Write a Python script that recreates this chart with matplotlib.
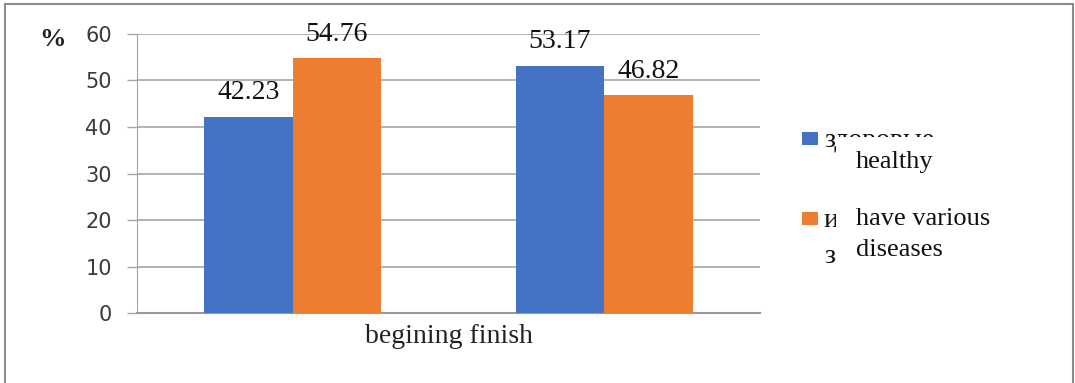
import matplotlib
matplotlib.use("Agg")
import matplotlib.pyplot as plt
from matplotlib.patches import Rectangle
import numpy as np

categories = ["begining", "finish"]
healthy = [42.23, 53.17]
diseases = [54.76, 46.82]
series_ru = ["здоровые", "имеют различные\nзаболевания"]
series_en = ["healthy", "have various\ndiseases"]
yticks = [0, 10, 20, 30, 40, 50, 60]

BLUE = "#4472C4"
ORANGE = "#ED7D31"
GRID = "#A6A6A6"
TXT = "#3a3a3a"
SERIF = ["Liberation Serif", "DejaVu Serif"]

W, H = 1075, 383
fig = plt.figure(figsize=(W / 100, H / 100), dpi=100)
fig.patch.set_facecolor("white")


def fx(px):
    return px / W


def fy(py):
    return 1 - py / H


# outer border
fig.patches.append(Rectangle((fx(5), -0.05), (1073 - 5) / W, 1.05 - 4 / H,
                             transform=fig.transFigure, fill=False,
                             edgecolor="#8c8c8c", linewidth=1.5, zorder=0))

ax = fig.add_axes([fx(137), fy(313.3), (760 - 137) / W, (313.3 - 33.7) / H])
x = np.arange(len(categories))
w = 0.284
b1 = ax.bar(x - w / 2, healthy, w, color=BLUE, label=series_ru[0], zorder=3)
b2 = ax.bar(x + w / 2, diseases, w, color=ORANGE, label=series_ru[1], zorder=3)

ax.set_xlim(-0.5, 1.5)
ax.set_ylim(0, 60)
ax.set_yticks(yticks)
ax.set_yticklabels([str(v) for v in yticks], fontsize=15, color=TXT,
                   family="DejaVu Sans")
ax.tick_params(axis="y", length=7.2, width=1, color=GRID, pad=11)
ax.set_xticks([])
ax.yaxis.grid(True, color=GRID, linewidth=1.2, zorder=0)
for s in ["top", "right"]:
    ax.spines[s].set_visible(False)
ax.spines["left"].set_color(GRID)
ax.spines["bottom"].set_color("#999999")
ax.spines["bottom"].set_linewidth(1.5)
ax.spines["left"].set_zorder(1)

for bars, vals in ((b1, healthy), (b2, diseases)):
    ax.bar_label(bars, labels=[f"{v:.2f}" for v in vals], padding=8,
                 fontsize=20, family=SERIF, color="#111111")

ax.set_xlabel("begining finish", fontsize=20, family=SERIF, color="#222222",
              labelpad=8)

fig.text(fx(53), fy(40), "%", fontsize=19, fontweight="bold",
         ha="center", va="center", color="#222222", family=SERIF)

# legend (original Russian labels, partly covered by a white box with English labels)
handles = [(BLUE, 132, series_ru[0], [147]),
           (ORANGE, 212, series_ru[1], [227, 263])]
for color, top, label, bases in handles:
    fig.patches.append(Rectangle((fx(802), fy(top + 13)), 16 / W, 13 / H,
                                 transform=fig.transFigure, facecolor=color,
                                 edgecolor="none", zorder=5))
    for line, base in zip(label.split("\n"), bases):
        fig.text(fx(824), fy(base), line, fontsize=20, family=SERIF,
                 va="baseline", ha="left", color="#111111", zorder=6)

fig.patches.append(Rectangle((fx(836), fy(275)), (1060 - 836) / W, (275 - 137) / H,
                             transform=fig.transFigure, facecolor="white",
                             edgecolor="none", zorder=10))
en_lines = [series_en[0]] + series_en[1].split("\n")
en_bases = [168, 225, 256]
for line, base in zip(en_lines, en_bases):
    fig.text(fx(856), fy(base), line, fontsize=19, family=SERIF,
             va="baseline", ha="left", color="#111111", zorder=11)

fig.savefig("out.png", dpi=100)
